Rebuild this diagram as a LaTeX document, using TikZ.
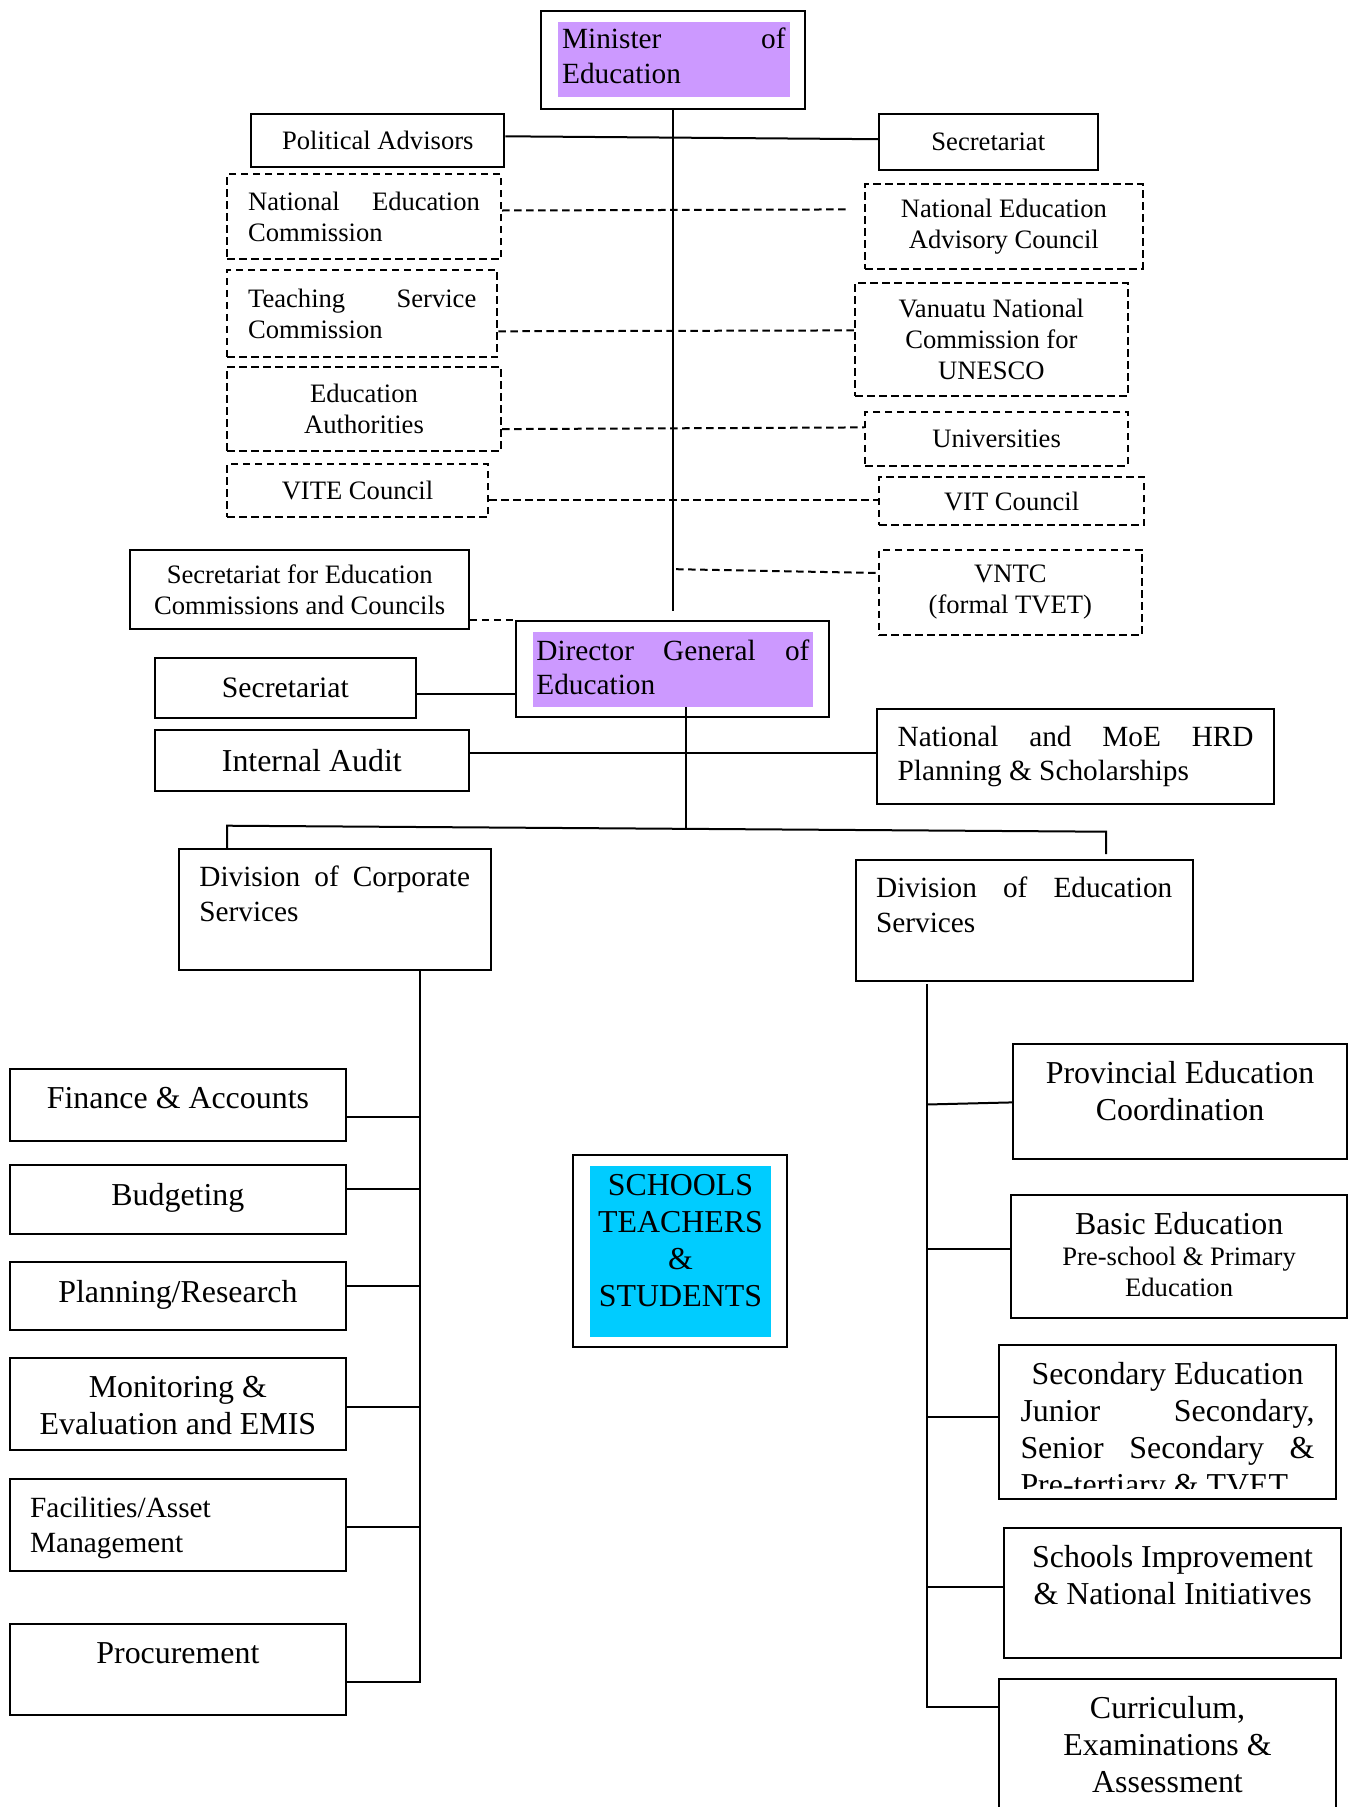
\documentclass[tikz,border=0pt]{standalone}
\usepackage{fontspec}
\setmainfont{Liberation Serif}
\definecolor{lilac}{HTML}{CC99FF}
\definecolor{skyfill}{HTML}{00CCFF}
\tolerance=10000 \hbadness=10000 \hyphenpenalty=10000 \exhyphenpenalty=10000

\begin{document}
\begin{tikzpicture}
	[   x=1pt, y=-1pt,
		box/.style={draw=black, line width=2pt, inner sep=0pt},
		dbox/.style={box, dash pattern=on 7.5pt off 4.5pt},
		conn/.style={draw, line width=2pt},
		dconn/.style={conn, dash pattern=on 7.5pt off 4.5pt},
		smalltext/.style={font=\fontsize{26.6}{31.1}\selectfont},
		midtext/.style={font=\fontsize{29.3}{34.6}\selectfont},
		bigtext/.style={font=\fontsize{31.9}{36.9}\selectfont},
		tx/.style={inner sep=0pt, anchor=north, align=center},
	]
	\useasboundingbox (0,0) rectangle (1354,1807);

	% minister and the bodies round it
	\node[box, minimum width=264.2pt, minimum height=97.4pt] (minbox) at (672.7,59.9) {};
	\node[fill=lilac, minimum width=232.2pt, minimum height=74.6pt] (minfill) at (673.9,59.3) {};
	\node[midtext, text width=223.5pt, align=justify, inner sep=0pt] (min-t) at ([yshift=3.4pt]minfill.center) {Minister of\linebreak Education};

	\node[box, smalltext, minimum width=253pt, minimum height=52.7pt] (pa) at (377.8,140.8) {Political Advisors};
	\node[box, smalltext, minimum width=218.6pt, minimum height=56.4pt] (sec-1) at (988.3,142.2) {Secretariat};

	\node[dbox, smalltext, minimum width=274pt, minimum height=85pt, text width=231.7pt, align=justify] (nec) at (364,216.5) {National Education\linebreak Commission};
	\node[dbox, smalltext, minimum width=270.4pt, minimum height=87.4pt, text width=228.2pt, align=justify] (tsc) at (362.2,313.7) {Teaching Service\linebreak Commission};
	\node[dbox, smalltext, minimum width=274pt, minimum height=83.7pt, align=center] (ea) at (364,408.9) {Education\\Authorities};
	\node[dbox, smalltext, minimum width=261pt, minimum height=53.1pt] (vite) at (357.5,490.9) {VITE Council};
	\node[box, smalltext, minimum width=338.5pt, minimum height=79.5pt, align=center] (secc) at (299.7,589.5) {Secretariat for Education\\Commissions and Councils};

	\node[dbox, smalltext, minimum width=277.2pt, minimum height=85pt, align=center] (neac) at (1003.9,226.2) {National Education\\Advisory Council};
	\node[dbox, smalltext, minimum width=272.8pt, minimum height=113pt, align=center] (unesco) at (991.4,339.5) {Vanuatu National\\Commission for\\UNESCO};
	\node[dbox, smalltext, minimum width=262.5pt, minimum height=53.9pt] (univ) at (996.6,438.7) {Universities};
	\node[dbox, smalltext, minimum width=265.2pt, minimum height=48.5pt] (vit) at (1011.6,501) {VIT Council};
	\node[dbox, smalltext, minimum width=262.6pt, minimum height=85.8pt, align=center] (vntc) at (1010.3,592.4) {VNTC\\(formal TVET)};

	% director general
	\node[box, minimum width=312.6pt, minimum height=96.3pt] (dgbox) at (672.7,669.15) {};
	\node[fill=lilac, minimum width=279.7pt, minimum height=74.4pt] (dgfill) at (672.9,669.5) {};
	\node[midtext, text width=273pt, align=justify, inner sep=0pt] (dg-t) at ([yshift=2.3pt]dgfill.center) {Director General of\linebreak Education};

	\node[box, font=\fontsize{29.7}{34}\selectfont, minimum width=261.6pt, minimum height=60.6pt] (sec-2) at (285.4,688) {Secretariat};
	\node[box, bigtext, minimum width=314.4pt, minimum height=61pt] (ia) at (311.8,760.5) {Internal Audit};
	\node[box, midtext, minimum width=396.3pt, minimum height=94.7pt, text width=356pt, align=justify] (hrd) at (1075.6,756.4) {National and MoE HRD\linebreak Planning \& Scholarships};

	% divisions
	\node[box, minimum width=311.7pt, minimum height=120.7pt] (corp) at (334.7,909.7) {};
	\node[tx, midtext, text width=270.7pt, align=justify] (corp-t) at ([yshift=-17.4pt]corp.north) {Division of Corporate\linebreak Services};
	\node[box, minimum width=336.8pt, minimum height=120.4pt] (edu) at (1024.2,920.5) {};
	\node[tx, midtext, text width=296.2pt, align=justify] (edu-t) at ([yshift=-17.4pt]edu.north) {Division of Education\linebreak Services};

	% corporate services units
	\node[box, minimum width=336.8pt, minimum height=72pt] (fin) at (177.9,1104.5) {};
	\node[tx, bigtext] (fin-t) at ([yshift=-19.3pt]fin.north) {Finance \& Accounts};
	\node[box, minimum width=336.8pt, minimum height=69pt] (bud) at (177.9,1199.7) {};
	\node[tx, bigtext] (bud-t) at ([yshift=-19.3pt]bud.north) {Budgeting};
	\node[box, minimum width=336.8pt, minimum height=68pt] (plan) at (177.9,1296) {};
	\node[tx, bigtext] (plan-t) at ([yshift=-19.3pt]plan.north) {Planning/Research};
	\node[box, minimum width=336.8pt, minimum height=91.6pt] (mon) at (177.9,1404) {};
	\node[tx, bigtext] (mon-t) at ([yshift=-19.3pt]mon.north) {Monitoring \&\\Evaluation and EMIS};
	\node[box, minimum width=336.8pt, minimum height=91.6pt] (fac) at (177.9,1525) {};
	\node[tx, midtext, anchor=north west, align=left] (fac-t) at ([xshift=21.5pt, yshift=-19pt]fac.north west) {Facilities/Asset\\Management};
	\node[box, minimum width=336.8pt, minimum height=91.6pt] (proc) at (177.9,1669.6) {};
	\node[tx, bigtext] (proc-t) at ([yshift=-20pt]proc.north) {Procurement};

	% schools
	\node[box, minimum width=214.2pt, minimum height=192.4pt] (stsbox) at (679.6,1251.2) {};
	\node[fill=skyfill, minimum width=181.4pt, minimum height=170.9pt] (stsfill) at (680.5,1251.65) {};
	\node[tx, bigtext] (sts-t) at ([yshift=-8.3pt]stsfill.north) {SCHOOLS\\TEACHERS\\\&\\STUDENTS};

	% education services units
	\node[box, minimum width=334pt, minimum height=114.2pt] (prov) at (1180,1101.4) {};
	\node[tx, bigtext] (prov-t) at ([yshift=-18.2pt]prov.north) {Provincial Education\\Coordination};
	\node[box, minimum width=335.8pt, minimum height=122.5pt] (basic) at (1179.1,1256.25) {};
	\node[tx, smalltext] (basic-t) at ([yshift=-18.2pt]basic.north) {{\fontsize{31.9}{36.9}\selectfont Basic Education}\\Pre-school \& Primary\\Education};
	\node[box, minimum width=337pt, minimum height=153.4pt] (secd) at (1167.5,1422) {};
	\begin{scope}
		\clip (secd.north west) rectangle ([yshift=11pt]secd.south east);
		\node[tx, bigtext, text width=294pt, align=justify] (secd-t) at ([yshift=-18.2pt]secd.north) {{\centering\noindent Secondary Education\par}\noindent Junior Secondary,\linebreak Senior Secondary \&\linebreak Pre-tertiary \& TVET};
	\end{scope}
	\node[box, minimum width=336.7pt, minimum height=129.7pt] (simp) at (1172.6,1592.85) {};
	\node[tx, bigtext] (simp-t) at ([yshift=-18.2pt]simp.north) {Schools Improvement\\\& National Initiatives};
	\node[box, minimum width=337pt, minimum height=161.2pt] (curr) at (1167.5,1760) {};
	\node[tx, bigtext] (curr-t) at ([yshift=-18.2pt]curr.north) {Curriculum,\\Examinations \&\\Assessment};

	% lines from the minister
	\path[conn] (minbox.south) -- ([yshift=9pt]minbox.south |- dgbox.north);
	\path[conn] ([yshift=4.5pt]pa.east) -- ([yshift=3pt]sec-1.west);
	\path[dconn] ([yshift=6pt]nec.east) -- ([xshift=-14.7pt, yshift=16.8pt]neac.west);
	\path[dconn] ([yshift=-17.6pt]tsc.east) -- ([yshift=9.1pt]unesco.west);
	\path[dconn] ([yshift=-20.2pt]ea.east) -- ([yshift=11.3pt]univ.west);
	\path[dconn] ([yshift=-9.5pt]vite.east) -- ([yshift=-9.5pt]vite.east -| vit.west);
	\path[dconn] ([xshift=3.5pt, yshift=23.2pt]minbox.south |- vntc.west) -- ([yshift=19.4pt]vntc.west);
	\path[dconn] (secc.east |- dgbox.north west) -- (dgbox.north west);

	% lines from the director general
	\path[conn] ([yshift=-5.7pt]sec-2.east) -- ([yshift=-5.7pt]sec-2.east -| dgbox.west);
	\path[conn] ([yshift=7.2pt]ia.east) -- ([yshift=7.2pt]ia.east -| hrd.west);
	\coordinate (bus-l) at (227,825.7);
	\coordinate (bus-r) at (1106,831.7);
	\coordinate (bus-m) at (685.7,828);
	\path[conn] ([xshift=12.8pt]dgfill.south) -- (bus-m);
	\path[conn] (bus-l |- corp.north) -- (bus-l) -- (bus-r) -- ([yshift=5.3pt]bus-r |- edu.north);

	% corporate services trunk
	\coordinate (trunk-l) at ([xshift=85pt]corp.south);
	\path[conn] (trunk-l) |- ([yshift=-12.8pt]proc.east);
	\foreach \b/\s in {fin/-12.3pt, bud/10.3pt, plan/10.4pt, mon/-2.6pt, fac/-2pt}
	{
		\path[conn] ([yshift=\s]\b.east) -- ([yshift=\s]\b.east -| trunk-l);
	}

	% education services trunk
	\coordinate (trunk-r) at ([xshift=-97.6pt, yshift=-2.6pt]edu.south);
	\path[conn] (trunk-r) |- ([yshift=-28.8pt]curr.north west);
	\path[conn] ([yshift=-3.1pt]prov.west -| trunk-r) -- ([yshift=-1pt]prov.west);
	\foreach \b/\s in {basic/7.25pt, secd/4.6pt, simp/6.15pt}
	{
		\path[conn] ([yshift=\s]\b.west -| trunk-r) -- ([yshift=\s]\b.west);
	}

\end{tikzpicture}
\end{document}
